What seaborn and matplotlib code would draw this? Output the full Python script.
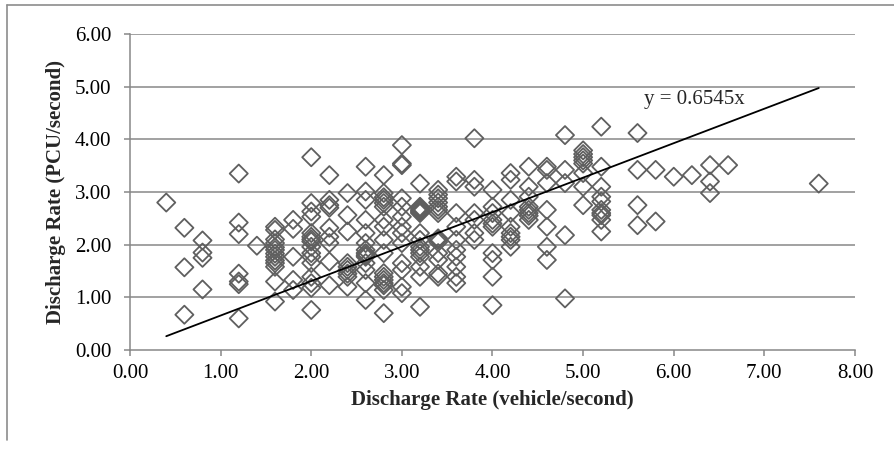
import numpy as np
import pandas as pd
import matplotlib
matplotlib.use("Agg")
import matplotlib.pyplot as plt
import seaborn as sns
from matplotlib.lines import Line2D

# discharge rate in vehicle/second (x) and the PCU/second readings at each x
veh_levels = [0.4, 0.6, 0.8, 1.2, 1.4, 1.6, 1.8, 2.0, 2.2, 2.4, 2.6, 2.8, 3.0,
              3.2, 3.4, 3.6, 3.8, 4.0, 4.2, 4.4, 4.6, 4.8, 5.0, 5.2, 5.6, 5.8,
              6.0, 6.2, 6.4, 6.6, 7.6]
pcu_at_level = [
    [2.80],
    [2.32, 1.57, 0.67],
    [2.08, 1.85, 1.75, 1.15],
    [3.35, 2.42, 2.20, 1.45, 1.30, 1.25, 0.60],
    [1.98],
    [2.34, 2.28, 2.10, 2.03, 1.95, 1.90, 1.83, 1.77, 1.70, 1.65, 1.58, 1.30, 0.92],
    [2.47, 2.30, 1.77, 1.33, 1.14],
    [3.66, 2.79, 2.63, 2.53, 2.22, 2.15, 2.10, 2.06, 1.96, 1.84, 1.77, 1.65,
     1.39, 1.27, 1.18, 0.76],
    [3.32, 2.85, 2.75, 2.70, 2.32, 2.15, 2.03, 1.68, 1.23],
    [2.98, 2.56, 2.25, 1.65, 1.58, 1.52, 1.45, 1.39, 1.20],
    [3.48, 3.01, 2.85, 2.47, 2.22, 2.03, 1.90, 1.84, 1.80, 1.77, 1.65, 1.52,
     1.27, 0.95],
    [3.32, 2.98, 2.90, 2.85, 2.79, 2.72, 2.47, 2.34, 2.09, 1.84, 1.46, 1.39,
     1.33, 1.27, 1.23, 1.14, 0.70],
    [3.89, 3.54, 3.51, 2.88, 2.72, 2.53, 2.34, 2.22, 2.03, 1.65, 1.52, 1.20, 1.08],
    [3.16, 2.72, 2.69, 2.66, 2.64, 2.62, 2.60, 2.22, 2.09, 1.96, 1.90, 1.84,
     1.77, 1.58, 1.39, 0.82],
    [3.04, 2.95, 2.88, 2.80, 2.72, 2.66, 2.60, 2.12, 2.09, 2.05, 1.84, 1.71,
     1.45, 1.39],
    [3.29, 3.20, 2.60, 2.34, 2.09, 1.90, 1.77, 1.58, 1.39, 1.27],
    [4.02, 3.23, 3.10, 2.60, 2.47, 2.22, 2.09],
    [3.04, 2.72, 2.60, 2.47, 2.40, 2.34, 1.84, 1.71, 1.39, 0.85],
    [3.36, 3.23, 2.85, 2.60, 2.34, 2.22, 2.15, 2.09, 1.96],
    [3.48, 3.10, 2.91, 2.72, 2.66, 2.60, 2.55, 2.47],
    [3.48, 3.42, 3.17, 2.66, 2.34, 1.96, 1.71],
    [4.08, 3.42, 3.17, 2.18, 0.98],
    [3.79, 3.72, 3.66, 3.60, 3.54, 3.36, 3.10, 2.75],
    [4.24, 3.48, 3.10, 2.91, 2.82, 2.66, 2.60, 2.56, 2.47, 2.25],
    [4.12, 3.42, 2.75, 2.37],
    [3.42, 2.44],
    [3.29],
    [3.32],
    [3.51, 3.20, 2.98],
    [3.51],
    [3.16],
]
trend_slope = 0.6545
trend_label = "y = 0.6545x"
x_ticks = [0, 1, 2, 3, 4, 5, 6, 7, 8]
y_ticks = [0, 1, 2, 3, 4, 5, 6]

df = pd.DataFrame({
    "veh": [v for v, ys in zip(veh_levels, pcu_at_level) for _ in ys],
    "pcu": [y for ys in pcu_at_level for y in ys],
})

sns.set_style("white")
plt.rcParams["font.family"] = ["Liberation Serif", "DejaVu Serif"]

W, H = 895, 449
fig = plt.figure(figsize=(W / 100, H / 100), dpi=100)
ax = fig.add_axes([130 / W, 1 - 350 / H, 725 / W, 316 / H])

grid_c = "#878787"
for yv in y_ticks[1:]:
    ax.axhline(yv, color=grid_c, lw=1.1, zorder=0)

sns.scatterplot(data=df, x="veh", y="pcu", ax=ax, marker="D", s=85,
                facecolors="none", edgecolors="#5f5f5f", linewidth=1.3,
                zorder=3, legend=False)
ax.collections[0].set_facecolor("none")

xs = np.array([df["veh"].min(), df["veh"].max()])
sns.lineplot(x=xs, y=trend_slope * xs, ax=ax, color="black", lw=1.3, zorder=4)
ax.text(5.67, 4.75, trend_label, fontsize=15, va="center", ha="left")

ax.set_xlim(0, 8)
ax.set_ylim(0, 6)
ax.set_xticks(x_ticks)
ax.set_yticks(y_ticks)
ax.set_xticklabels([f"{v:.2f}" for v in x_ticks])
ax.set_yticklabels([f"{v:.2f}" for v in y_ticks])
ax.tick_params(axis="both", direction="out", length=4, width=1.1, color=grid_c,
               labelsize=15, labelcolor="black")
ax.tick_params(axis="x", bottom=True, pad=6.3)
ax.tick_params(axis="y", left=True, pad=9.5)
for side in ["top", "right"]:
    ax.spines[side].set_visible(False)
for side in ["left", "bottom"]:
    ax.spines[side].set_color(grid_c)
    ax.spines[side].set_linewidth(1.1)

ax.set_xlabel("Discharge Rate (vehicle/second)", fontsize=15, fontweight="bold",
              labelpad=4.5)
ax.set_ylabel("Discharge Rate (PCU/second)", fontsize=15, fontweight="bold",
              labelpad=6)

# chart area frame (top and left edges visible)
fig.add_artist(Line2D([7 / W, 1], [1 - 5 / H, 1 - 5 / H], color="#8c8c8c", lw=1.2))
fig.add_artist(Line2D([7 / W, 7 / W], [1 - 5 / H, 1 - 440 / H], color="#8c8c8c", lw=1.2))

fig.savefig("out.png", dpi=100)
